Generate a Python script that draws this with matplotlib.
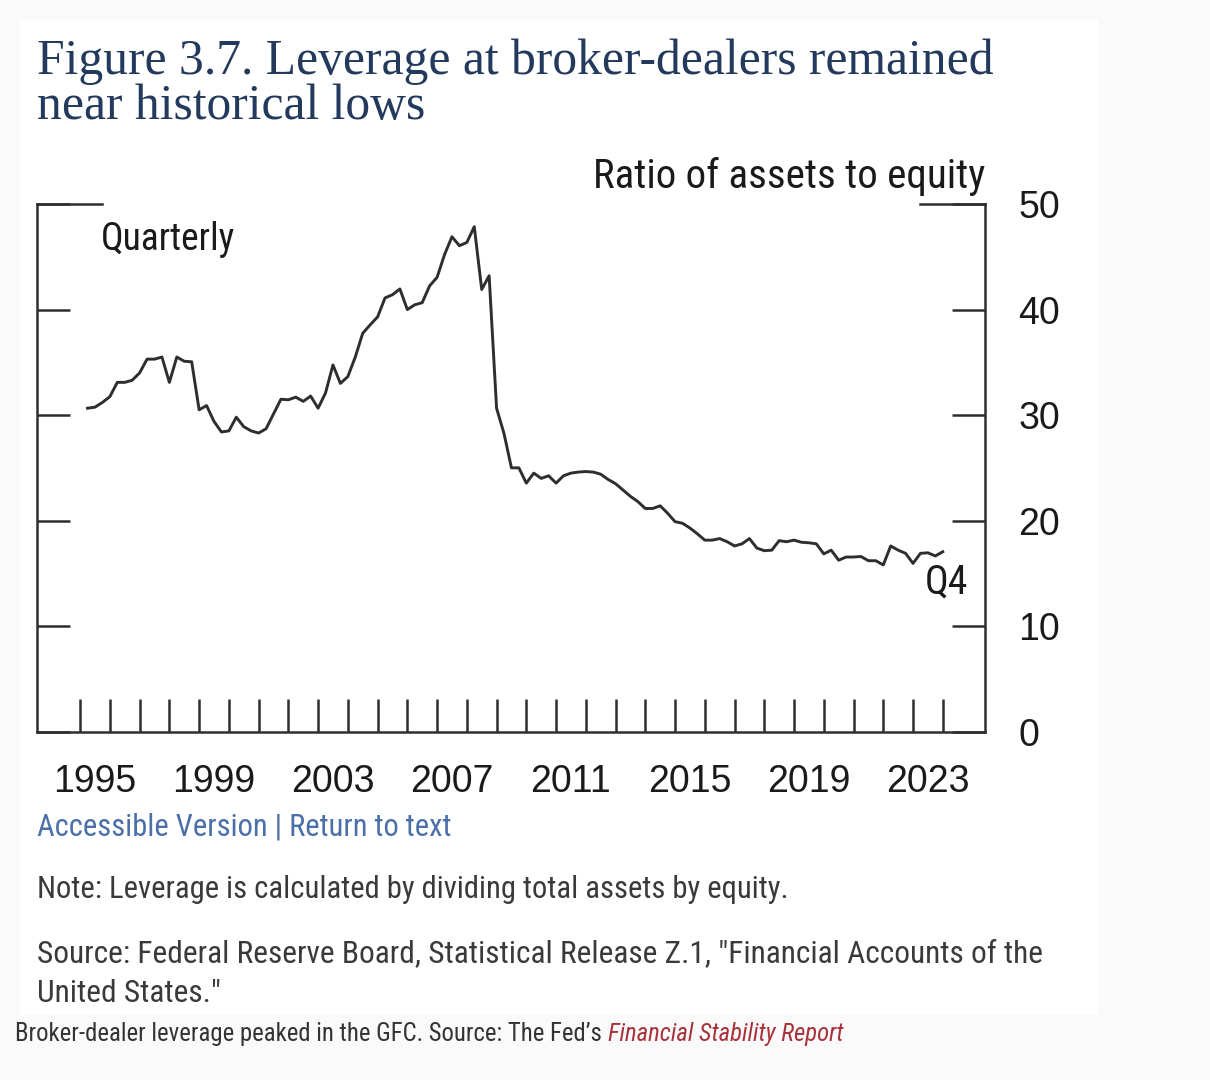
#!/usr/bin/env python3
"""Broker-dealer leverage (ratio of assets to equity), quarterly, 1995-2023."""
import matplotlib
matplotlib.use("Agg")
import matplotlib.pyplot as plt
import matplotlib.patches as mpatches
from matplotlib import font_manager
import pandas as pd

# ---- data ----
quarters = pd.period_range("1995Q1", "2023Q4", freq="Q")
leverage = [
    30.65, 30.75, 31.2, 31.75,   # 1995
    33.1, 33.1, 33.3, 34.0,      # 1996
    35.3, 35.3, 35.5, 33.1,      # 1997
    35.5, 35.1, 35.05, 30.5,     # 1998
    30.9, 29.4, 28.4, 28.5,      # 1999
    29.8, 28.9, 28.5, 28.3,      # 2000
    28.7, 30.1, 31.5, 31.45,     # 2001
    31.7, 31.3, 31.8, 30.65,     # 2002
    32.1, 34.75, 33.0, 33.65,    # 2003
    35.5, 37.75, 38.55, 39.3,    # 2004
    41.1, 41.4, 41.95, 40.0,     # 2005
    40.45, 40.65, 42.25, 43.05,  # 2006
    45.2, 46.9, 46.05, 46.35,    # 2007
    47.85, 41.9, 43.2, 30.65,    # 2008
    28.25, 25.0, 25.0, 23.55,    # 2009
    24.5, 24.0, 24.25, 23.55,    # 2010
    24.25, 24.5, 24.6, 24.65,    # 2011
    24.6, 24.4, 23.9, 23.5,      # 2012
    22.9, 22.3, 21.8, 21.15,     # 2013
    21.15, 21.4, 20.7, 19.9,     # 2014
    19.75, 19.3, 18.75, 18.15,   # 2015
    18.15, 18.3, 18.0, 17.6,     # 2016
    17.8, 18.3, 17.4, 17.15,     # 2017
    17.2, 18.1, 18.0, 18.15,     # 2018
    17.95, 17.9, 17.8, 16.85,    # 2019
    17.2, 16.25, 16.55, 16.55,   # 2020
    16.6, 16.2, 16.2, 15.8,      # 2021
    17.6, 17.2, 16.9, 15.95,     # 2022
    16.9, 16.95, 16.65, 17.05,   # 2023
]
year_ticks = list(range(1995, 2025))
label_years = [1995, 1999, 2003, 2007, 2011, 2015, 2019, 2023]
y_ticks = [0, 10, 20, 30, 40, 50]

W, H = 1210, 1080
INK = "#2e2e2e"
NAVY = "#233a5c"


def px(x, y):
    """pixel position (from top-left) -> figure fraction"""
    return x / W, 1 - y / H


names = {f.name for f in font_manager.fontManager.ttflist}
NARROW = next((n for n in ["Liberation Sans Narrow", "Roboto Condensed", "DejaVu Sans"]
               if n in names), "DejaVu Sans")
SANS = "Liberation Sans" if "Liberation Sans" in names else "DejaVu Sans"
SERIF = "Liberation Serif" if "Liberation Serif" in names else "DejaVu Serif"

fig = plt.figure(figsize=(W / 100, H / 100), dpi=100, facecolor="#fafafa")
card = mpatches.Rectangle(px(20, 1015), (1098 - 20) / W, (1015 - 20) / H,
                          transform=fig.transFigure, facecolor="white",
                          edgecolor="none", zorder=-1)
fig.patches.append(card)

l, b = px(37, 731.7)
r, t = px(985, 204)
ax = fig.add_axes([l, b, r - l, t - b], facecolor="none", zorder=2)

x = quarters.year + quarters.quarter / 4
ax.plot(x, leverage, color=INK, lw=2.1, solid_joinstyle="round")

ax.set_xlim(1993.55, 2025.42)
ax.set_ylim(0, 50)

ax.set_xticks(year_ticks)
ax.set_xticks([yr + 0.5 for yr in label_years], minor=True)
ax.set_xticklabels([str(yr) for yr in label_years], minor=True)
ax.tick_params(axis="x", which="major", direction="in", length=23.8, width=1.8,
               color=INK, labelbottom=False)
ax.tick_params(axis="x", which="minor", length=0, pad=23, labelsize=27,
               labelcolor="#1a1a1a")

ax.set_yticks(y_ticks)
ax.tick_params(axis="y", left=True, right=True, labelleft=False, labelright=True,
               direction="in", length=23.8, width=1.8, color=INK, pad=24,
               labelsize=27, labelcolor="#1a1a1a")
for lab in ax.get_xticklabels(minor=True) + ax.get_yticklabels():
    lab.set_family(SANS)

ax.spines["top"].set_visible(False)
for side in ["left", "right", "bottom"]:
    ax.spines[side].set_linewidth(1.8)
    ax.spines[side].set_color(INK)

# short top rules at the 50 line on each side
for seg in ([0, 0.0686], [0.9314, 1]):
    ax.plot(seg, [1, 1], transform=ax.transAxes, color=INK, lw=1.8,
            clip_on=False, solid_capstyle="projecting")

# in-chart labels
fig.text(*px(985, 188), "Ratio of assets to equity", ha="right", va="baseline",
         fontsize=29.5, family=NARROW, color="#1a1a1a")
fig.text(*px(101, 250), "Quarterly", ha="left", va="baseline",
         fontsize=27, family=NARROW, color="#1a1a1a")
fig.text(*px(925, 594), "Q4", ha="left", va="baseline",
         fontsize=28.5, family=NARROW, color="#1a1a1a")

# title
fig.text(*px(37, 74), "Figure 3.7. Leverage at broker-dealers remained",
         ha="left", va="baseline", fontsize=35.7, family=SERIF, color=NAVY)
fig.text(*px(37, 119), "near historical lows",
         ha="left", va="baseline", fontsize=35.7, family=SERIF, color=NAVY)

# links, note, source
fig.text(*px(37, 835), "Accessible Version | Return to text", ha="left",
         va="baseline", fontsize=22.0, family=NARROW, color="#4b6fa8")
fig.text(*px(37, 898), "Note: Leverage is calculated by dividing total assets by equity.",
         ha="left", va="baseline", fontsize=22.1, family=NARROW, color="#3a3a3a")
fig.text(*px(37, 962),
         'Source: Federal Reserve Board, Statistical Release Z.1, "Financial Accounts of the',
         ha="left", va="baseline", fontsize=22.6, family=NARROW, color="#3a3a3a")
fig.text(*px(37, 1002), 'United States."', ha="left", va="baseline",
         fontsize=22.6, family=NARROW, color="#3a3a3a")

# caption below the card
cap = fig.text(*px(15, 1041), "Broker-dealer leverage peaked in the GFC. Source: The Fed\u2019s ",
               ha="left", va="baseline", fontsize=17.8, family=NARROW, color="#333333")
fig.canvas.draw()
bb = cap.get_window_extent()
fig.text(bb.x1 / W, 1 - 1041 / H, "Financial Stability Report", ha="left",
         va="baseline", fontsize=17.8, family=NARROW, style="italic", color="#a8323a")

fig.savefig("out.png", dpi=100, facecolor=fig.get_facecolor())
